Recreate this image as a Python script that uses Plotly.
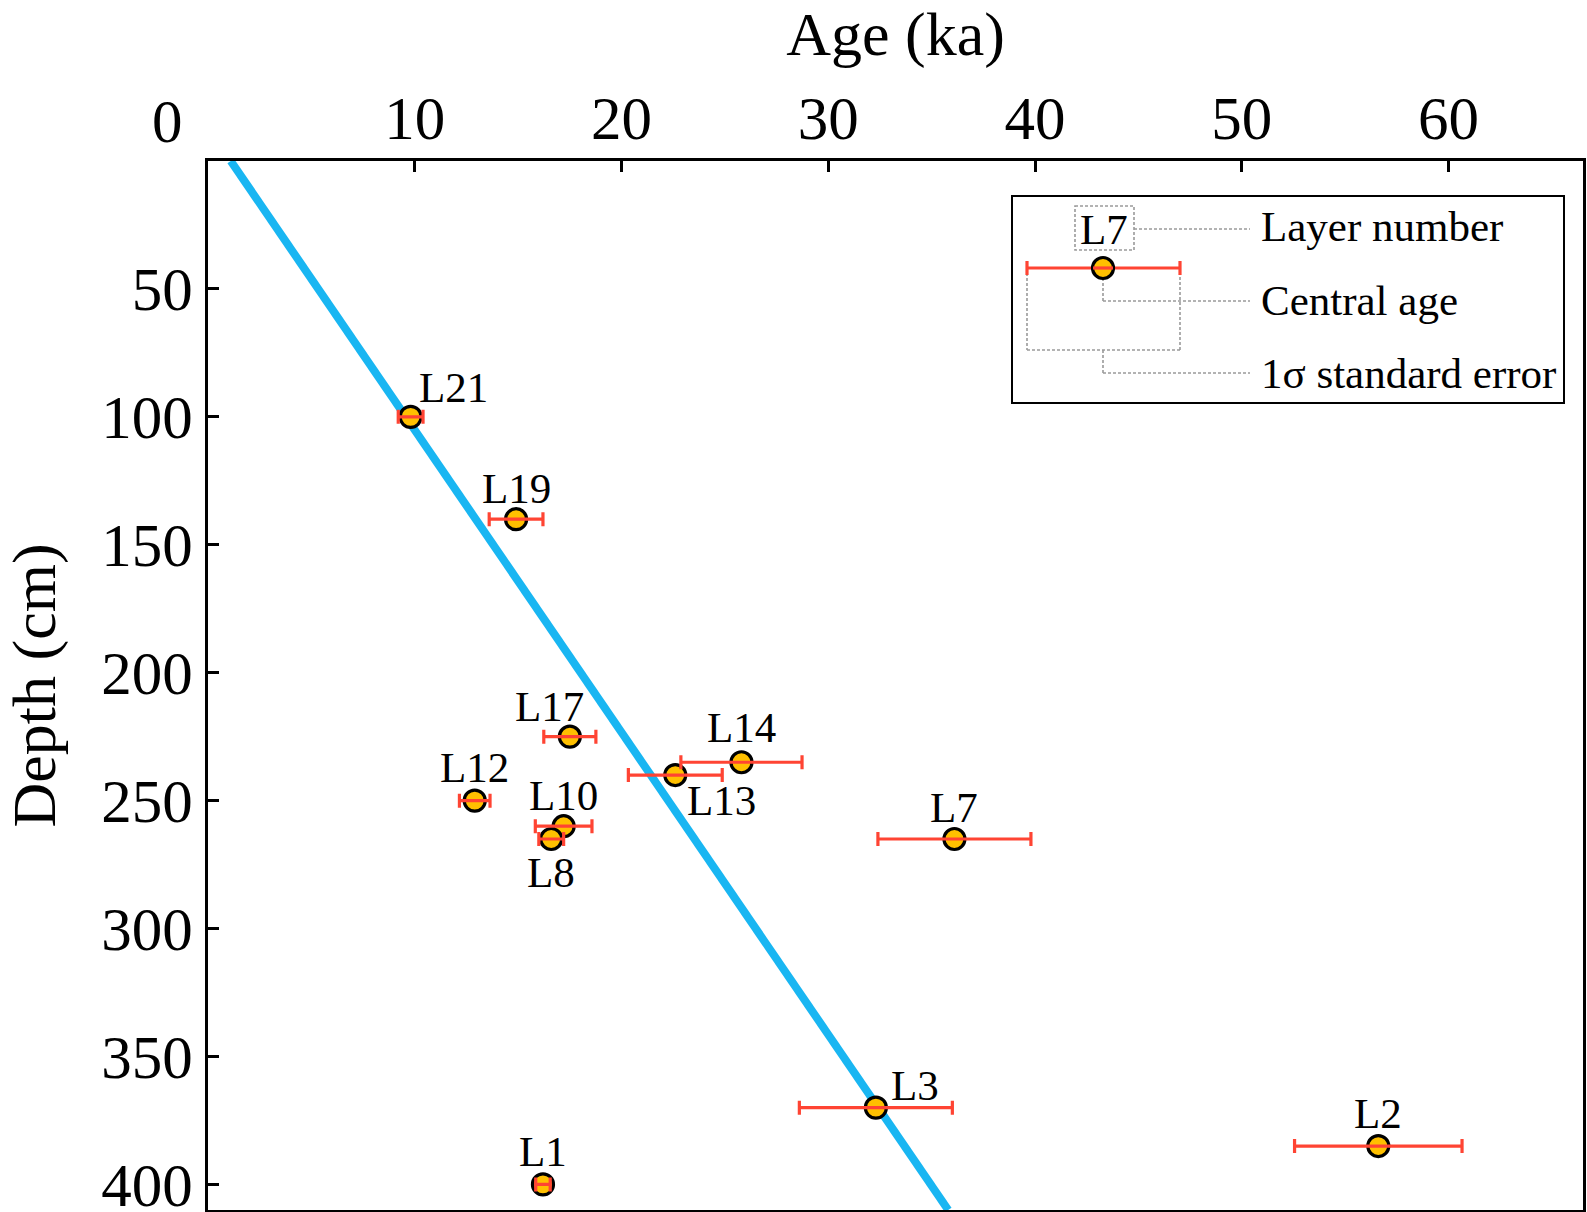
import plotly.graph_objects as go

# ---------------- data ----------------
layers = ["L21", "L19", "L17", "L12", "L10", "L8", "L13", "L14", "L7", "L3", "L2", "L1"]
age_ka = [9.8, 14.9, 17.5, 12.9, 17.2, 16.6, 22.6, 25.8, 36.1, 32.3, 56.6, 16.2]
depth_cm = [100, 140, 225, 250, 260, 265, 240, 235, 265, 370, 385, 400]
age_err = [0.6, 1.3, 1.26, 0.74, 1.37, 0.6, 2.27, 2.93, 3.7, 3.7, 4.05, 0.35]

trend_depth = [0, 410]
trend_age = [1.1, 35.8]

x_tickvals = [10, 20, 30, 40, 50, 60]
x_ticktext = ["10", "20", "30", "40", "50", "60"]
y_tickvals = [50, 100, 150, 200, 250, 300, 350, 400]
y_ticktext = ["50", "100", "150", "200", "250", "300", "350", "400"]

# label offsets (px) relative to each point: style only
label_shift = {
    "L21": (43, 29), "L19": (0, 31), "L17": (-20, 30), "L12": (0, 33),
    "L10": (0, 31), "L8": (0, -33), "L13": (46, -25), "L14": (0, 35),
    "L7": (0, 32), "L3": (39, 22), "L2": (0, 33), "L1": (0, 33),
}

FONT = "Liberation Serif, Times New Roman, serif"
W, H = 1587, 1212
ML, MR, MT, MB = 208, 4, 161, 2
PW, PH = W - ML - MR, H - MT - MB
TICK = 61
LBL = 43
RED = "#FF4433"

fig = go.Figure()

fig.add_trace(go.Scatter(
    x=trend_age, y=trend_depth, mode="lines",
    line=dict(color="#19B6F2", width=8), showlegend=False, hoverinfo="skip"))

fig.add_trace(go.Scatter(
    x=age_ka, y=depth_cm, mode="markers",
    marker=dict(size=21, color="#FFC000", line=dict(color="black", width=3.2)),
    showlegend=False))

fig.add_trace(go.Scatter(
    x=age_ka, y=depth_cm, mode="markers",
    marker=dict(size=1, opacity=0),
    error_x=dict(type="data", array=age_err, color=RED, thickness=3.2, width=7),
    showlegend=False, hoverinfo="skip"))

annotations = []
for name, a, d in zip(layers, age_ka, depth_cm):
    dx, dy = label_shift[name]
    annotations.append(dict(x=a, y=d, xref="x", yref="y", text=name, showarrow=False,
                            xshift=dx, yshift=dy, xanchor="center", yanchor="middle",
                            font=dict(family=FONT, size=LBL, color="black")))

# "0" tick label of the age axis, set off to the left of the corner
annotations.append(dict(x=0, y=1, xref="paper", yref="paper", text="0", showarrow=False,
                        xshift=-41, yshift=40, xanchor="center", yanchor="middle",
                        font=dict(family=FONT, size=TICK, color="black")))

# -------- custom legend (layout positions in figure pixels) --------
def px(x):
    return (x - ML) / PW

def py(y):
    return 1 - (y - MT) / PH

shapes = []
shapes.append(dict(type="rect", xref="paper", yref="paper", x0=px(1012), x1=px(1564),
                   y0=py(196), y1=py(403), line=dict(color="black", width=2),
                   fillcolor="white", layer="below"))
dash = dict(color="#9A9A9A", width=1.6, dash="3px,2px")

def seg(pts):
    for (x0, y0), (x1, y1) in zip(pts[:-1], pts[1:]):
        shapes.append(dict(type="line", xref="paper", yref="paper",
                           x0=px(x0), y0=py(y0), x1=px(x1), y1=py(y1), line=dash))

shapes.append(dict(type="rect", xref="paper", yref="paper", x0=px(1075), x1=px(1134),
                   y0=py(206), y1=py(250), line=dash))
seg([(1134, 229), (1250, 229)])
seg([(1103, 268), (1103, 301), (1250, 301)])
seg([(1027, 268), (1027, 350), (1180, 350), (1180, 268)])
seg([(1103, 350), (1103, 373), (1250, 373)])
# sample error bar
red = dict(color=RED, width=3.2)
shapes.append(dict(type="line", xref="paper", yref="paper", x0=px(1027), x1=px(1180),
                   y0=py(268), y1=py(268), line=red))
for xc in (1027, 1180):
    shapes.append(dict(type="line", xref="paper", yref="paper", x0=px(xc), x1=px(xc),
                       y0=py(261), y1=py(275), line=red))
# sample marker
shapes.append(dict(type="circle", xref="paper", yref="paper", x0=px(1092.5), x1=px(1113.5),
                   y0=py(257.5), y1=py(278.5), fillcolor="#FFC000",
                   line=dict(color="black", width=3.2)))
shapes.append(dict(type="line", xref="paper", yref="paper", x0=px(1093), x1=px(1113),
                   y0=py(268), y1=py(268), line=red))

legend_texts = [("L7", 1104, 229, "center"), ("Layer number", 1259, 227, "left"),
                ("Central age", 1259, 300, "left"), ("1σ standard error", 1259, 373, "left")]
for t, x, y, anc in legend_texts:
    annotations.append(dict(x=px(x), y=py(y), xref="paper", yref="paper", text=t,
                            showarrow=False, xanchor=anc, yanchor="middle",
                            font=dict(family=FONT, size=LBL, color="black")))

fig.update_layout(
    width=W, height=H,
    margin=dict(l=ML, r=MR, t=MT, b=MB, autoexpand=False),
    paper_bgcolor="white", plot_bgcolor="white",
    showlegend=False,
    font=dict(family=FONT, color="black"),
    annotations=annotations, shapes=shapes,
    xaxis=dict(
        side="top", range=[0, 66.5], tickvals=x_tickvals, ticktext=x_ticktext,
        ticks="inside", ticklen=11, tickwidth=3, tickcolor="black",
        showline=True, linewidth=3, linecolor="black", mirror=True,
        showgrid=False, zeroline=False, ticklabeloverflow="allow",
        automargin=False, ticklabelstandoff=-5,
        tickfont=dict(family=FONT, size=TICK, color="black"),
        title=dict(text="Age (ka)", font=dict(family=FONT, size=62, color="black"), standoff=12),
    ),
    yaxis=dict(
        range=[410, 0], tickvals=y_tickvals, ticktext=y_ticktext,
        ticks="inside", ticklen=11, tickwidth=3, tickcolor="black",
        showline=True, linewidth=3, linecolor="black", mirror=True,
        showgrid=False, zeroline=False, ticklabeloverflow="allow",
        automargin=False,
        tickfont=dict(family=FONT, size=TICK, color="black"),
        title=dict(text="Depth (cm)", font=dict(family=FONT, size=62, color="black"), standoff=27),
    ),
)

fig.write_html("out.html", config={"displayModeBar": False},
               post_script="document.body.style.margin='0px';")
